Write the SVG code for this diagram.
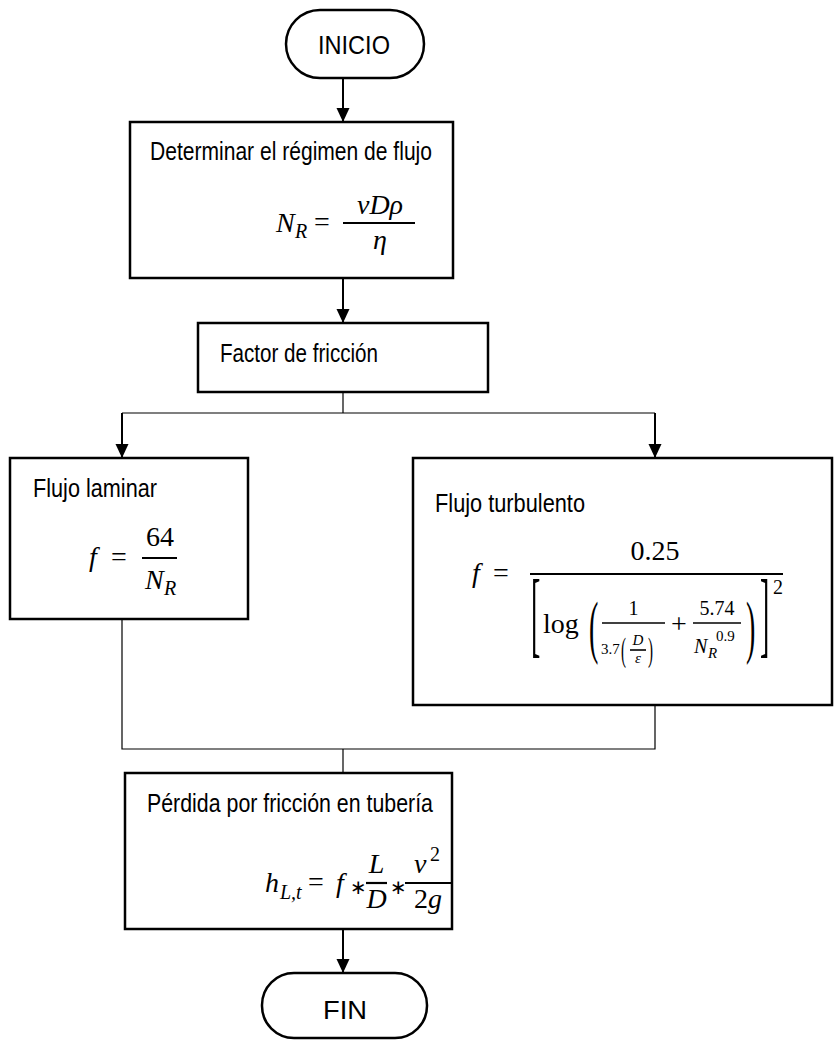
<svg xmlns="http://www.w3.org/2000/svg" width="835" height="1040" viewBox="0 0 835 1040">
<defs>
<marker id="ah" markerWidth="14" markerHeight="14" refX="14" refY="6.5" orient="auto" markerUnits="userSpaceOnUse">
<path d="M0,0 L14,6.5 L0,13 Z" fill="#000"/>
</marker>
<style>
.box{fill:#fff;stroke:#000;stroke-width:2.5}
.lbl{font-family:"Liberation Sans",Arial,sans-serif;font-size:25px;fill:#000}
.m{font-family:"Liberation Serif","DejaVu Serif",serif;font-size:28px;fill:#000}
.mi{font-family:"Liberation Serif","DejaVu Serif",serif;font-size:28px;font-style:italic;fill:#000}
.ms{font-family:"Liberation Serif","DejaVu Serif",serif;font-size:20px;fill:#000}
.msi{font-family:"Liberation Serif","DejaVu Serif",serif;font-size:20px;font-style:italic;fill:#000}
.mt{font-family:"Liberation Serif","DejaVu Serif",serif;font-size:15px;fill:#000}
.mti{font-family:"Liberation Serif","DejaVu Serif",serif;font-size:15px;font-style:italic;fill:#000}
.op{font-family:"DejaVu Sans",sans-serif;font-size:20px;fill:#000}
.fr{stroke:#000;stroke-width:2.2}
.fr2{stroke:#000;stroke-width:1.6}
.arr{stroke:#000;stroke-width:2;fill:none;marker-end:url(#ah)}
.ln{stroke:#000;stroke-width:1.2;fill:none}
</style>
</defs>

<g id="connectors">
<line class="arr" x1="343" y1="78" x2="343" y2="122"/>
<line class="arr" x1="343" y1="278" x2="343" y2="323"/>
<polyline class="ln" points="343,392 343,413"/>
<polyline class="ln" points="122,413 655,413"/>
<line class="arr" x1="122" y1="413" x2="122" y2="458"/>
<line class="arr" x1="655" y1="413" x2="655" y2="458"/>
<polyline class="ln" points="122,619 122,749 655,749 655,705"/>
<polyline class="ln" points="343,749 343,773"/>
<line class="arr" x1="343" y1="929" x2="343" y2="973"/>
</g>

<g id="inicio">
<rect class="box" x="286" y="10" width="138" height="68" rx="34"/>
<text class="lbl" x="318" y="54" textLength="72" lengthAdjust="spacingAndGlyphs">INICIO</text>
</g>

<g id="regimen">
<rect class="box" x="130" y="122" width="323" height="156"/>
<text class="lbl" x="150" y="160" textLength="282" lengthAdjust="spacingAndGlyphs">Determinar el régimen de flujo</text>
<text class="mi" x="276" y="232">N</text>
<text class="msi" x="295" y="238">R</text>
<text class="m" x="314" y="231">=</text>
<line class="fr" x1="343" y1="223" x2="415" y2="223"/>
<text class="mi" x="380" y="214" text-anchor="middle">vDρ</text>
<text class="mi" x="380" y="249" text-anchor="middle">η</text>
</g>

<g id="factor">
<rect class="box" x="198" y="323" width="290" height="69"/>
<text class="lbl" x="220" y="362" textLength="158" lengthAdjust="spacingAndGlyphs">Factor de fricción</text>
</g>

<g id="laminar">
<rect class="box" x="10" y="458" width="238" height="161"/>
<text class="lbl" x="33" y="497" textLength="124" lengthAdjust="spacingAndGlyphs">Flujo laminar</text>
<text class="mi" x="89" y="566">f</text>
<text class="m" x="111" y="566">=</text>
<line class="fr" x1="142" y1="558" x2="177" y2="558"/>
<text class="m" x="160" y="546" text-anchor="middle">64</text>
<text class="mi" x="145" y="589">N</text>
<text class="msi" x="164" y="595">R</text>
</g>

<g id="turbulento">
<rect class="box" x="413" y="458" width="419" height="247"/>
<text class="lbl" x="435" y="512" textLength="150" lengthAdjust="spacingAndGlyphs">Flujo turbulento</text>
<text class="mi" x="472" y="582">f</text>
<text class="m" x="493" y="582">=</text>
<line class="fr" x1="530" y1="574" x2="783" y2="574"/>
<text class="m" x="655" y="560" text-anchor="middle">0.25</text>
<text class="m" transform="translate(531,645) scale(1,3.4)">[</text>
<text class="m" x="543" y="633">log</text>
<text class="m" transform="translate(589,650) scale(1,2.5)">(</text>
<line class="fr2" x1="602" y1="623" x2="665" y2="623"/>
<text class="ms" x="633.5" y="615" text-anchor="middle">1</text>
<text class="mt" x="601" y="654">3.7</text>
<text class="mt" transform="translate(621,661) scale(1,2.3)">(</text>
<text class="mti" x="638" y="645" text-anchor="middle">D</text>
<line class="fr2" x1="630" y1="650" x2="646" y2="650"/>
<text class="mti" x="638" y="663" text-anchor="middle">ε</text>
<text class="mt" transform="translate(648,661) scale(1,2.3)">)</text>
<text class="m" x="671" y="633">+</text>
<line class="fr2" x1="693" y1="623" x2="741" y2="623"/>
<text class="ms" x="717" y="615" text-anchor="middle">5.74</text>
<text class="msi" x="694" y="653">N</text>
<text class="mti" x="708" y="658">R</text>
<text class="mt" x="716" y="641">0.9</text>
<text class="m" transform="translate(746,650) scale(1,2.5)">)</text>
<text class="m" transform="translate(760,645) scale(1,3.4)">]</text>
<text class="ms" x="773" y="594">2</text>
</g>

<g id="perdida">
<rect class="box" x="125" y="773" width="327" height="156"/>
<text class="lbl" x="147" y="812" textLength="286" lengthAdjust="spacingAndGlyphs">Pérdida por fricción en tubería</text>
<text class="mi" x="265" y="892">h</text>
<text class="msi" x="280" y="899">L,t</text>
<text class="m" x="308" y="891">=</text>
<text class="mi" x="336" y="892">f</text>
<text class="op" x="350" y="894">∗</text>
<line class="fr" x1="366" y1="883" x2="387" y2="883"/>
<text class="mi" x="376.5" y="873" text-anchor="middle">L</text>
<text class="mi" x="376.5" y="908" text-anchor="middle">D</text>
<text class="op" x="390" y="894">∗</text>
<line class="fr" x1="405" y1="883" x2="451" y2="883"/>
<text class="mi" x="414" y="873">v</text>
<text class="ms" x="430" y="861">2</text>
<text class="m" x="428" y="908" text-anchor="middle"><tspan>2</tspan><tspan font-style="italic">g</tspan></text>
</g>

<g id="fin">
<rect class="box" x="262" y="973" width="165" height="65" rx="32"/>
<text class="lbl" x="323" y="1019" textLength="44" lengthAdjust="spacingAndGlyphs">FIN</text>
</g>
</svg>
